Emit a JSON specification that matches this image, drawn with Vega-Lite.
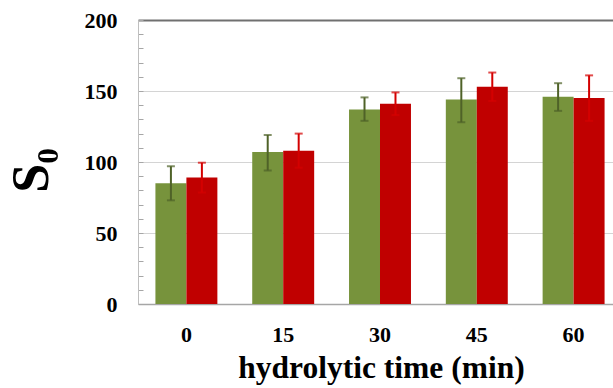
{
  "$schema": "https://vega.github.io/schema/vega-lite/v6.json",
  "width": 475,
  "height": 284,
  "autosize": {"type": "none"},
  "padding": {"left": 138, "top": 20, "right": 0, "bottom": 84},
  "background": "white",
  "config": {
    "view": {"stroke": null},
    "font": "Liberation Serif",
    "axisY": {"labelOverlap": false}
  },
  "data": {
    "values": [
      {"time": "0", "group": "A", "mean": 85, "lo": 73, "hi": 97},
      {"time": "0", "group": "B", "mean": 89, "lo": 78.5, "hi": 99.5},
      {"time": "15", "group": "A", "mean": 107, "lo": 94, "hi": 119},
      {"time": "15", "group": "B", "mean": 108, "lo": 96, "hi": 120},
      {"time": "30", "group": "A", "mean": 137, "lo": 129, "hi": 145.5},
      {"time": "30", "group": "B", "mean": 141, "lo": 133, "hi": 149},
      {"time": "45", "group": "A", "mean": 144, "lo": 128, "hi": 159},
      {"time": "45", "group": "B", "mean": 153, "lo": 143, "hi": 163},
      {"time": "60", "group": "A", "mean": 146, "lo": 136, "hi": 155.5},
      {"time": "60", "group": "B", "mean": 145, "lo": 129, "hi": 161}
    ]
  },
  "encoding": {
    "x": {
      "field": "time",
      "type": "nominal",
      "sort": ["0", "15", "30", "45", "60"],
      "scale": {"range": [0, 484], "paddingInner": 0.36, "paddingOuter": 0.18},
      "axis": {
        "title": "hydrolytic time (min)",
        "titleFont": "Liberation Serif",
        "titleFontSize": 31.5,
        "titleFontWeight": "bold",
        "titleColor": "black",
        "titleX": 243,
        "titlePadding": 7,
        "labelFont": "Liberation Serif",
        "labelFontSize": 22,
        "labelFontWeight": "bold",
        "labelColor": "black",
        "labelAngle": 0,
        "labelPadding": 20,
        "ticks": false,
        "domainColor": "#a6a6a6",
        "domainWidth": 1.5,
        "grid": false
      }
    },
    "xOffset": {"field": "group", "type": "nominal", "sort": ["A", "B"]}
  },
  "layer": [
    {
      "mark": {"type": "bar"},
      "encoding": {
        "y": {
          "field": "mean",
          "type": "quantitative",
          "scale": {"domain": [0, 200], "nice": false},
          "axis": {
            "title": "S₀",
            "titleFont": "Liberation Serif",
            "titleFontSize": 52,
            "titleFontWeight": "bold",
            "titleColor": "black",
            "titlePadding": 26,
            "titleY": 150,
            "values": [0, 10, 20, 30, 40, 50, 60, 70, 80, 90, 100, 110, 120, 130, 140, 150, 160, 170, 180, 190, 200],
            "labelExpr": "datum.value % 50 === 0 ? datum.label : ''",
            "labelOverlap": false,
            "labelFont": "Liberation Serif",
            "labelFontSize": 22,
            "labelFontWeight": "bold",
            "labelColor": "black",
            "labelPadding": 26,
            "tickSize": -5,
            "tickColor": "#a6a6a6",
            "domainColor": "#bfbfbf",
            "grid": true,
            "gridColor": {
              "condition": [
                {"test": "datum.value === 200", "value": "#707070"},
                {"test": "datum.value % 50 === 0", "value": "#d4d4d4"}
              ],
              "value": "rgba(0,0,0,0)"
            },
            "gridWidth": {"condition": {"test": "datum.value === 200", "value": 2}, "value": 1.2}
          }
        },
        "color": {
          "field": "group",
          "type": "nominal",
          "scale": {"domain": ["A", "B"], "range": ["#77933C", "#C00000"]},
          "legend": null
        }
      }
    },
    {
      "mark": {"type": "rule", "strokeWidth": 2},
      "encoding": {
        "y": {"field": "lo", "type": "quantitative", "axis": null},
        "y2": {"field": "hi"},
        "color": {
          "field": "group",
          "type": "nominal",
          "scale": {"domain": ["A", "B"], "range": ["#4F6228", "#D40000"]},
          "legend": null
        }
      }
    },
    {
      "mark": {"type": "tick", "thickness": 2, "size": 8},
      "encoding": {
        "y": {"field": "hi", "type": "quantitative", "axis": null},
        "color": {
          "field": "group",
          "type": "nominal",
          "scale": {"domain": ["A", "B"], "range": ["#4F6228", "#D40000"]},
          "legend": null
        }
      }
    },
    {
      "mark": {"type": "tick", "thickness": 2, "size": 8},
      "encoding": {
        "y": {"field": "lo", "type": "quantitative", "axis": null},
        "color": {
          "field": "group",
          "type": "nominal",
          "scale": {"domain": ["A", "B"], "range": ["#4F6228", "#D40000"]},
          "legend": null
        }
      }
    }
  ],
  "resolve": {"scale": {"color": "independent"}, "axis": {"y": "independent"}}
}
